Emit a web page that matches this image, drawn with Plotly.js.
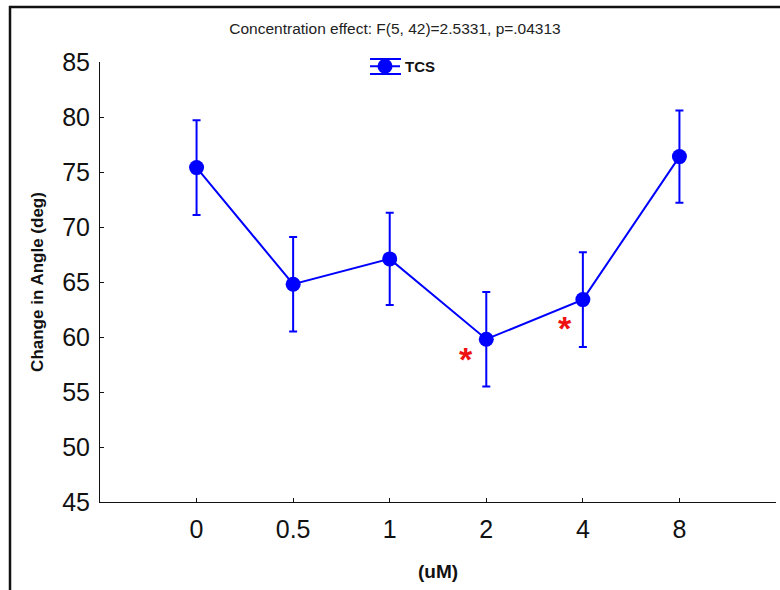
<!DOCTYPE html>
<html>
<head>
<meta charset="utf-8">
<script src="https://cdn.plot.ly/plotly-3.0.1.min.js"></script>
<style>
  html, body { margin: 0; padding: 0; background: #fff; }
  #chart { width: 780px; height: 590px; }
</style>
</head>
<body>
<div id="chart"></div>
<script>
// Concentration groups (uM) and mean change in angle with standard error
var concentrations = ['0', '0.5', '1', '2', '4', '8'];
var meanAngle = [75.4, 64.8, 67.1, 59.8, 63.4, 76.4];
var stdError = [4.3, 4.3, 4.2, 4.3, 4.3, 4.2];
var seriesName = 'TCS';
var yTicks = [45, 50, 55, 60, 65, 70, 75, 80, 85];

// Groups marked as significantly different (positioned beside their points)
var sigMarks = [
  { x: 2.79, y: 58.0 },
  { x: 3.82, y: 60.8 }
];

var FONT = 'Liberation Sans, Arial, sans-serif';
var BLUE = '#0000ff';

var L = 100, R = 4, T = 62, B = 88, W = 780, H = 590;
var pw = W - L - R, ph = H - T - B;
function px(x) { return (x - L) / pw; }
function py(y) { return (H - B - y) / ph; }

var trace = {
  x: concentrations.map(function (c, i) { return i; }),
  y: meanAngle,
  name: seriesName,
  type: 'scatter',
  mode: 'lines+markers',
  line: { color: BLUE, width: 2 },
  marker: { color: BLUE, size: 15 },
  error_y: { type: 'data', array: stdError, visible: true, color: BLUE, thickness: 2, width: 4 },
  cliponaxis: false
};

var shapes = [
  // outer frame (left and top edges)
  { type: 'line', xref: 'paper', yref: 'paper', x0: px(10), x1: px(10), y0: py(6), y1: py(600), line: { color: '#111', width: 2.5 } },
  { type: 'line', xref: 'paper', yref: 'paper', x0: px(9), x1: px(790), y0: py(7), y1: py(7), line: { color: '#111', width: 2.5 } },
  // error caps on the legend key
  { type: 'line', xref: 'paper', yref: 'paper', x0: px(370), x1: px(401), y0: py(59), y1: py(59), line: { color: BLUE, width: 2 } },
  { type: 'line', xref: 'paper', yref: 'paper', x0: px(370), x1: px(401), y0: py(74), y1: py(74), line: { color: BLUE, width: 2 } },
  { type: 'line', xref: 'paper', yref: 'paper', x0: px(385.5), x1: px(385.5), y0: py(59), y1: py(74), line: { color: BLUE, width: 2 } }
];

var annotations = sigMarks.map(function (m) {
  return {
    x: m.x, y: m.y, xref: 'x', yref: 'y', text: '<b>*</b>', showarrow: false,
    font: { family: FONT, size: 34, color: '#ee1111' }, xanchor: 'center', yanchor: 'middle'
  };
});

var layout = {
  width: W, height: H,
  margin: { l: L, r: R, t: T, b: B, pad: 0 },
  paper_bgcolor: '#fff', plot_bgcolor: '#fff',
  font: { family: FONT, color: '#111' },
  title: {
    text: 'Concentration effect: F(5, 42)=2.5331, p=.04313',
    font: { family: FONT, size: 15.5, color: '#222' },
    x: 395 / W, xref: 'container', xanchor: 'center',
    y: 1 - 29 / H, yref: 'container', yanchor: 'middle'
  },
  showlegend: true,
  legend: {
    x: px(365), y: py(50), xanchor: 'left', yanchor: 'top',
    bgcolor: 'rgba(0,0,0,0)', borderwidth: 0,
    font: { family: FONT, size: 15, color: '#111', weight: 'bold' }
  },
  xaxis: {
    range: [-1, 6],
    tickvals: concentrations.map(function (c, i) { return i; }),
    ticktext: concentrations,
    showgrid: false, zeroline: false,
    showline: true, linecolor: '#111', linewidth: 1,
    ticks: 'inside', ticklen: 4, tickcolor: '#111',
    ticklabelstandoff: 5,
    tickfont: { family: FONT, size: 25, color: '#111' },
    title: { text: '(uM)', font: { family: FONT, size: 19, color: '#111', weight: 'bold' }, standoff: 22 },
    fixedrange: true
  },
  yaxis: {
    range: [45, 85],
    tickvals: yTicks,
    showgrid: false, zeroline: false,
    showline: true, linecolor: '#111', linewidth: 1,
    ticks: 'inside', ticklen: 4, tickcolor: '#111',
    ticklabelstandoff: 4,
    tickfont: { family: FONT, size: 25, color: '#111' },
    title: { text: 'Change in Angle (deg)', font: { family: FONT, size: 17, color: '#111', weight: 'bold' }, standoff: 14 },
    fixedrange: true
  },
  shapes: shapes,
  annotations: annotations
};

Plotly.newPlot('chart', [trace], layout, { displayModeBar: false, staticPlot: true });
</script>
</body>
</html>
